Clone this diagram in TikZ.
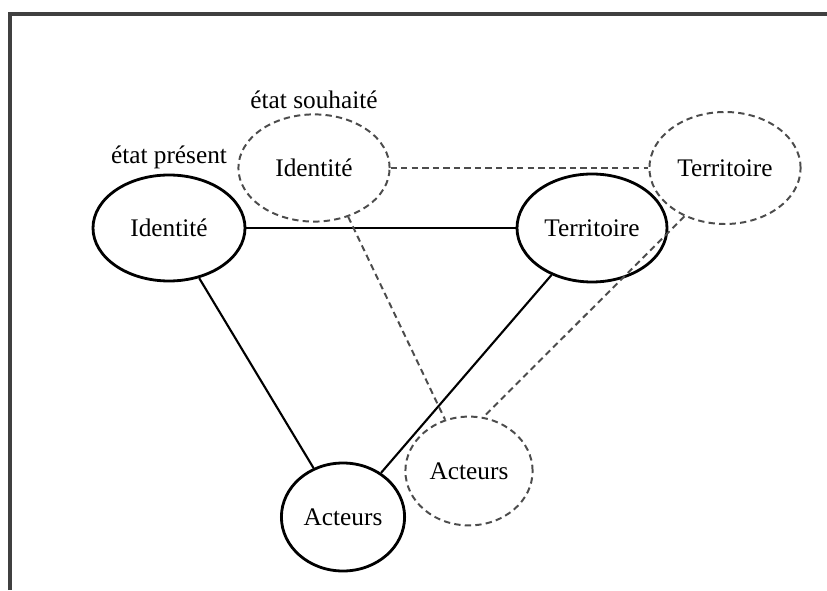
\documentclass[tikz,border=0pt]{standalone}
\usepackage{fontspec}
\setmainfont{Liberation Serif}
\usetikzlibrary{shapes.geometric}

\begin{document}
\begin{tikzpicture}[every node/.style={ellipse, inner sep=0pt, font=\fontsize{18}{21}\selectfont}, every label/.style={rectangle, inner sep=.3333em}, present/.style={draw, line width=2pt}, desired/.style={draw=black!70, line width=1.4pt, dash pattern=on 4.5pt off 3pt}]
        
        \useasboundingbox (0,0) rectangle (20.675,14.75);
        \draw[line width=2.5pt, black!75] (0.25,0) -- (0.25,14.4) -- (20.675,14.4);
        
        \node[present, minimum width=3.8cm, minimum height=2.65cm, label=above:{état présent}] (1) at (4.225,9.05) {Identité};
        \node[desired, minimum width=3.78cm, minimum height=2.68cm, label=above:{état souhaité}] (2) at (7.85,10.55) {Identité};
        \node[present, minimum width=3.75cm, minimum height=2.7cm] (3) at (14.8,9.05) {Territoire};
        \node[desired, minimum width=3.78cm, minimum height=2.8cm] (4) at (18.125,10.55) {Territoire};
        \node[present, minimum width=3.08cm, minimum height=2.7cm] (5) at (8.575,1.825) {Acteurs};
        \node[desired, minimum width=3.18cm, minimum height=2.72cm] (6) at (11.725,2.975) {Acteurs};
        
        \draw[line width=1.5pt] (1) to (3);
        \draw[line width=1.5pt] (1) to (5);
        \draw[line width=1.5pt] (3) to (5);
        \draw[desired] (2) to (4);
        \draw[desired] (2.305) to (6.115);
        \draw[desired] (4.230) to (6.75);
        
        \end{tikzpicture}
\end{document}
